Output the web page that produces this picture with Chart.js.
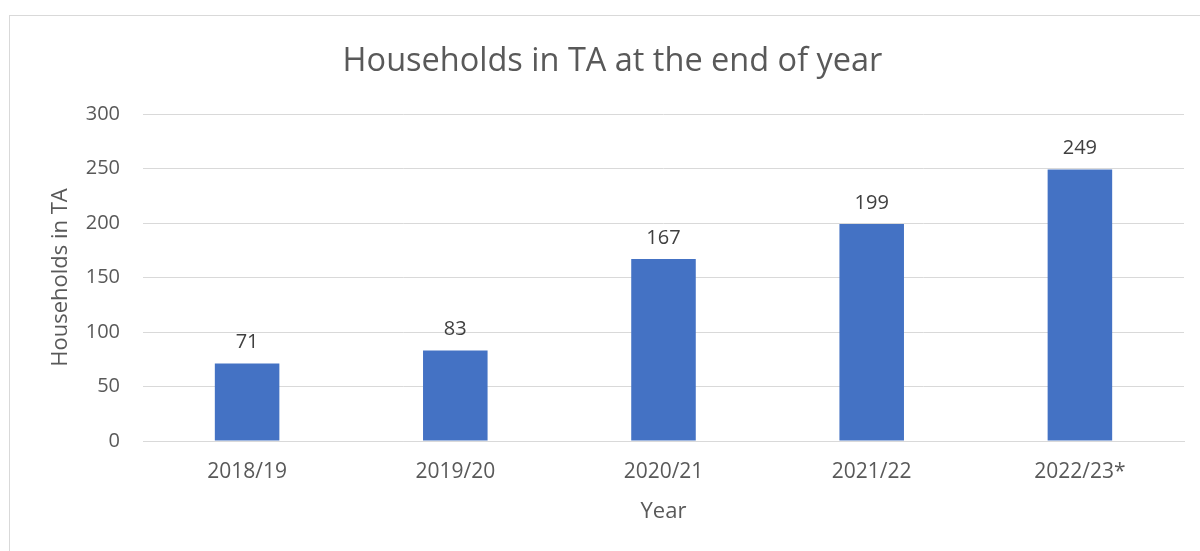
<!DOCTYPE html>
<html>
<head>
<meta charset="utf-8">
<script src="https://cdn.jsdelivr.net/npm/chart.js@4/dist/chart.umd.min.js"></script>
<style>
  body { margin: 0; background: #fff; }
  #frame {
    position: absolute; left: 9px; top: 15px;
    width: 1300px; height: 600px;
    border: 1px solid #d9d9d9;
  }
  #wrap { position: absolute; left: 0; top: 0; width: 1200px; height: 551px; }
</style>
</head>
<body>
<div id="frame"></div>
<div id="wrap"><canvas id="chart"></canvas></div>
<script>
// Chart data
const years = ["2018/19", "2019/20", "2020/21", "2021/22", "2022/23*"];
const households = [71, 83, 167, 199, 249];
const yTicks = [0, 50, 100, 150, 200, 250, 300];

const FONT = "'Open Sans', sans-serif";
const TEXT_COLOR = "#595959";

// Draw value labels above each bar
const valueLabels = {
  id: "valueLabels",
  afterDatasetsDraw(chart) {
    const ctx = chart.ctx;
    const meta = chart.getDatasetMeta(0);
    ctx.save();
    ctx.font = "20px " + FONT;
    ctx.fillStyle = "#404040";
    ctx.textAlign = "center";
    ctx.textBaseline = "bottom";
    meta.data.forEach((bar, i) => {
      ctx.fillText(households[i], bar.x, bar.y - 11);
    });
    ctx.restore();
  },
};

const ctx = document.getElementById("chart").getContext("2d");
new Chart(ctx, {
  type: "bar",
  data: {
    labels: years,
    datasets: [
      {
        label: "Households in TA",
        data: households,
        backgroundColor: "#4472C4",
        barPercentage: 0.62,
        categoryPercentage: 0.5,
      },
    ],
  },
  options: {
    responsive: true,
    maintainAspectRatio: false,
    animation: false,
    // left padding keeps the title centred on the frame, not the canvas
    layout: { padding: { left: 41, right: 16, top: 0, bottom: 20 } },
    plugins: {
      legend: { display: false },
      tooltip: { enabled: false },
      title: {
        display: true,
        text: "Households in TA at the end of year",
        color: TEXT_COLOR,
        font: { family: FONT, size: 32.5, weight: "normal" },
        padding: { top: 42, bottom: 33 },
      },
    },
    scales: {
      x: {
        grid: { display: false, drawTicks: false },
        border: { color: "#d9d9d9" },
        ticks: {
          color: TEXT_COLOR,
          font: { family: FONT, size: 21 },
          padding: 18,
          maxRotation: 0,
        },
        title: {
          display: true,
          text: "Year",
          color: TEXT_COLOR,
          font: { family: FONT, size: 22 },
          padding: { top: 0, bottom: 6 },
        },
        afterFit(scale) {
          scale.height = 90;
        },
      },
      y: {
        min: 0,
        max: 300,
        grid: { color: "#d9d9d9", drawTicks: false },
        border: { display: false },
        afterBuildTicks(scale) {
          scale.ticks = yTicks.map((v) => ({ value: v }));
        },
        ticks: {
          color: TEXT_COLOR,
          font: { family: FONT, size: 20 },
          padding: 23,
        },
        title: {
          display: true,
          text: "Households in TA",
          color: TEXT_COLOR,
          font: { family: FONT, size: 22 },
          padding: { top: 7, bottom: 0 },
        },
        afterFit(scale) {
          scale.width = 102;
        },
      },
    },
  },
  plugins: [valueLabels],
});
</script>
</body>
</html>
